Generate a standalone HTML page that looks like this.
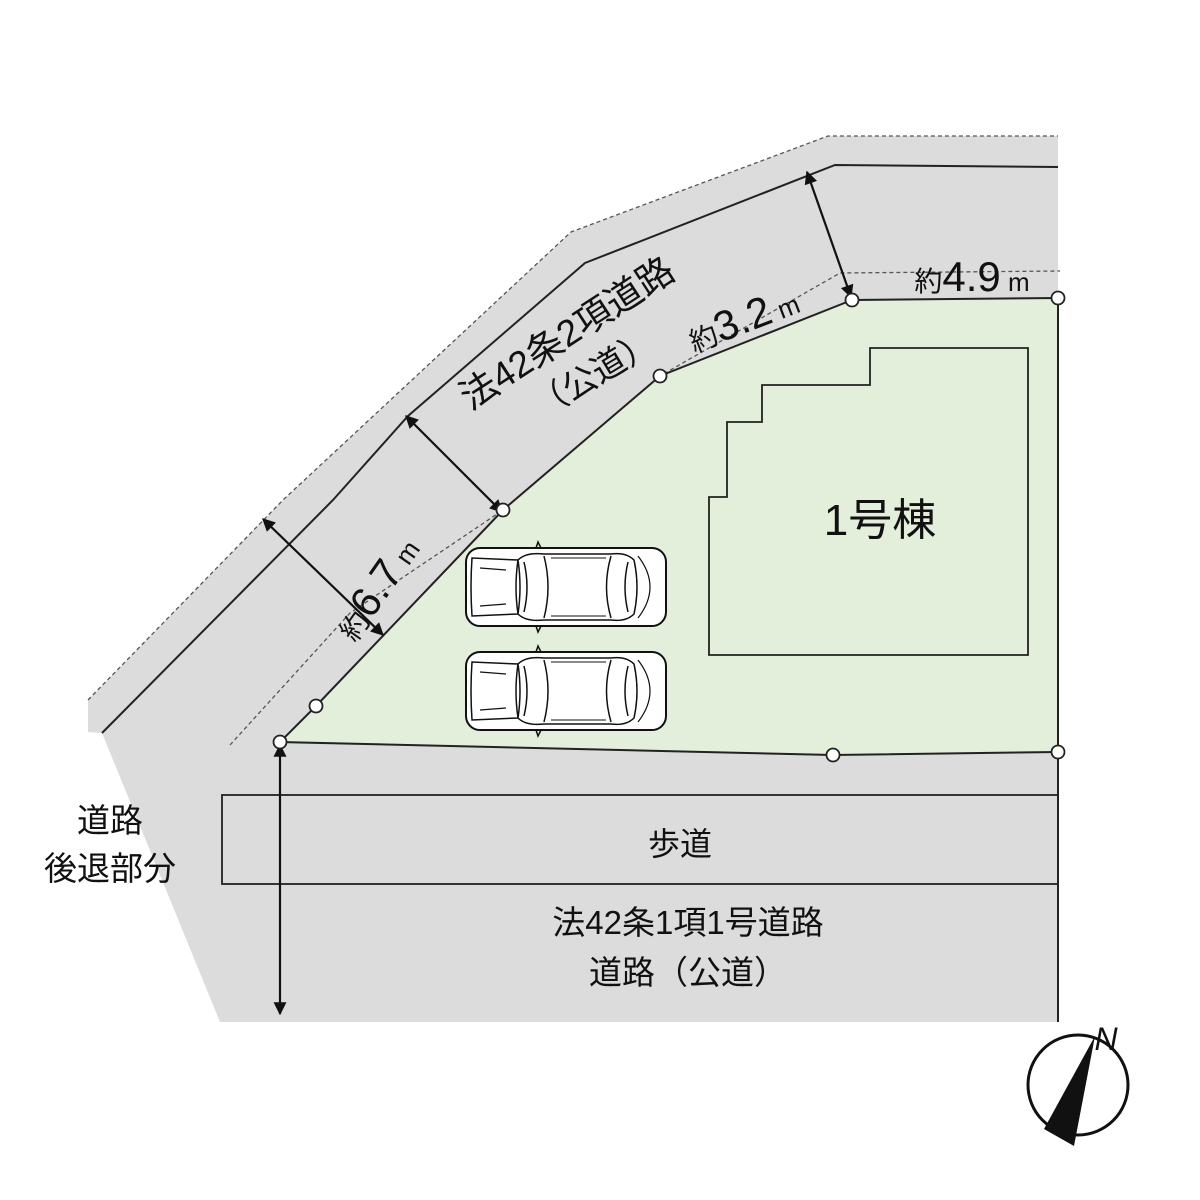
<!DOCTYPE html>
<html><head><meta charset="utf-8"><style>
html,body{margin:0;padding:0;background:#fff;}
svg{display:block;}
text{font-family:"Liberation Sans","Noto Sans CJK JP",sans-serif;fill:#111;}
</style></head><body>
<svg width="1200" height="1200" viewBox="0 0 1200 1200" xmlns="http://www.w3.org/2000/svg">
<defs>
<marker id="ah" viewBox="0 0 10 10" refX="9" refY="5" markerWidth="15" markerHeight="13" orient="auto-start-reverse" markerUnits="userSpaceOnUse">
<path d="M0,0 L10,5 L0,10 z" fill="#111"/></marker>
<g id="car">
<rect x="0" y="0" width="200" height="78" rx="14" fill="#fff" stroke="#111" stroke-width="2"/>
<path d="M6,10 Q4,39 6,68 L52,66 Q48,39 52,12 Z" fill="#fff" stroke="#111" stroke-width="1.5"/>
<path d="M52,12 Q60,4 78,6 L145,6 Q160,4 168,12 Q174,39 168,66 Q160,74 145,72 L78,72 Q60,74 52,66 Q56,39 52,12 Z" fill="#fff" stroke="#111" stroke-width="1.5"/>
<path d="M58,14 Q64,39 58,64 M78,8 Q86,39 78,70 M145,8 Q136,39 145,70 M162,14 Q156,39 162,64" fill="none" stroke="#111" stroke-width="1.5"/>
<path d="M85,10 L140,10 M85,68 L140,68" stroke="#111" stroke-width="1"/>
<path d="M172,8 Q196,39 172,70 M14,20 L40,22 M14,58 L40,56" fill="none" stroke="#111" stroke-width="1.2"/>
<path d="M70,0 L72,-6 L75,0 M70,78 L72,84 L75,78" fill="none" stroke="#111" stroke-width="1.5"/>
</g>
</defs>
<polygon points="88,700 283,500 571,232 828,136 1058,136 1058,1022 220,1022 102,733 88,732" fill="#dcdcdc"/>
<polyline points="88,700 283,500 571,232 828,136 1058,136" fill="none" stroke="#555" stroke-width="1.3" stroke-dasharray="4,3"/>
<polyline points="102,733 333,500 408,416 585,263 835,165 1058,167" fill="none" stroke="#222" stroke-width="2"/>
<polyline points="230,745 350,613 503,510 660,376 840,273 1060,271" fill="none" stroke="#555" stroke-width="1.3" stroke-dasharray="4,3"/>
<polygon points="852,300 660,376 503,510 316,706 280,742 833,755 1058,752 1058,298" fill="#e3eedb" stroke="#222" stroke-width="2"/>
<line x1="1058" y1="752" x2="1058" y2="1022" stroke="#222" stroke-width="2"/>
<polygon points="870,348 1028,348 1028,655 709,655 709,497 727,497 727,422 762,422 762,385 870,385" fill="none" stroke="#222" stroke-width="1.8"/>
<text x="880" y="535" font-size="44" text-anchor="middle">1号棟</text>
<rect x="222" y="795" width="836" height="89" fill="none" stroke="#222" stroke-width="1.8"/>
<text x="680" y="855" font-size="32" text-anchor="middle">歩道</text>
<text x="688" y="934" font-size="33" text-anchor="middle">法42条1項1号道路</text>
<text x="688" y="984" font-size="33" text-anchor="middle">道路（公道）</text>
<text x="110" y="832" font-size="33" text-anchor="middle">道路</text>
<text x="110" y="880" font-size="33" text-anchor="middle">後退部分</text>
<use href="#car" x="466" y="548"/>
<use href="#car" x="466" y="652"/>
<g stroke="#111" stroke-width="2.2" fill="none">
<line x1="263" y1="519" x2="383" y2="635" marker-start="url(#ah)" marker-end="url(#ah)"/>
<line x1="406" y1="416" x2="502" y2="512" marker-start="url(#ah)" marker-end="url(#ah)"/>
<line x1="807" y1="172" x2="851" y2="297" marker-start="url(#ah)" marker-end="url(#ah)"/>
<line x1="280" y1="745" x2="280" y2="1014" marker-start="url(#ah)" marker-end="url(#ah)"/>
</g>
<g fill="#fff" stroke="#222" stroke-width="1.8">
<circle cx="852" cy="300" r="6.5"/><circle cx="1058" cy="298" r="6.5"/>
<circle cx="660" cy="376" r="6.5"/><circle cx="503" cy="510" r="6.5"/>
<circle cx="316" cy="706" r="6.5"/><circle cx="280" cy="742" r="6.5"/>
<circle cx="833" cy="755" r="6.5"/><circle cx="1058" cy="752" r="6.5"/>
</g>
<text transform="translate(574,344) rotate(-33)" font-size="37" text-anchor="middle">法42条2項道路</text>
<text transform="translate(600,384) rotate(-31)" font-size="34" text-anchor="middle">（公道）</text>
<text transform="translate(388,596) rotate(-55)" text-anchor="middle"><tspan font-size="28">約</tspan><tspan font-size="42">6.7</tspan><tspan font-size="26"> m</tspan></text>
<text transform="translate(748,332) rotate(-21)" text-anchor="middle"><tspan font-size="28">約</tspan><tspan font-size="42">3.2</tspan><tspan font-size="26"> m</tspan></text>
<text x="972" y="291" text-anchor="middle"><tspan font-size="28">約</tspan><tspan font-size="42">4.9</tspan><tspan font-size="26"> m</tspan></text>
<circle cx="1078" cy="1085" r="50" fill="#fff" stroke="#111" stroke-width="3"/>
<polygon points="1095,1036 1044,1129 1074,1146" fill="#111"/>
<text x="1106" y="1050" font-size="32" font-style="italic" text-anchor="middle">N</text>
</svg>
</body></html>
